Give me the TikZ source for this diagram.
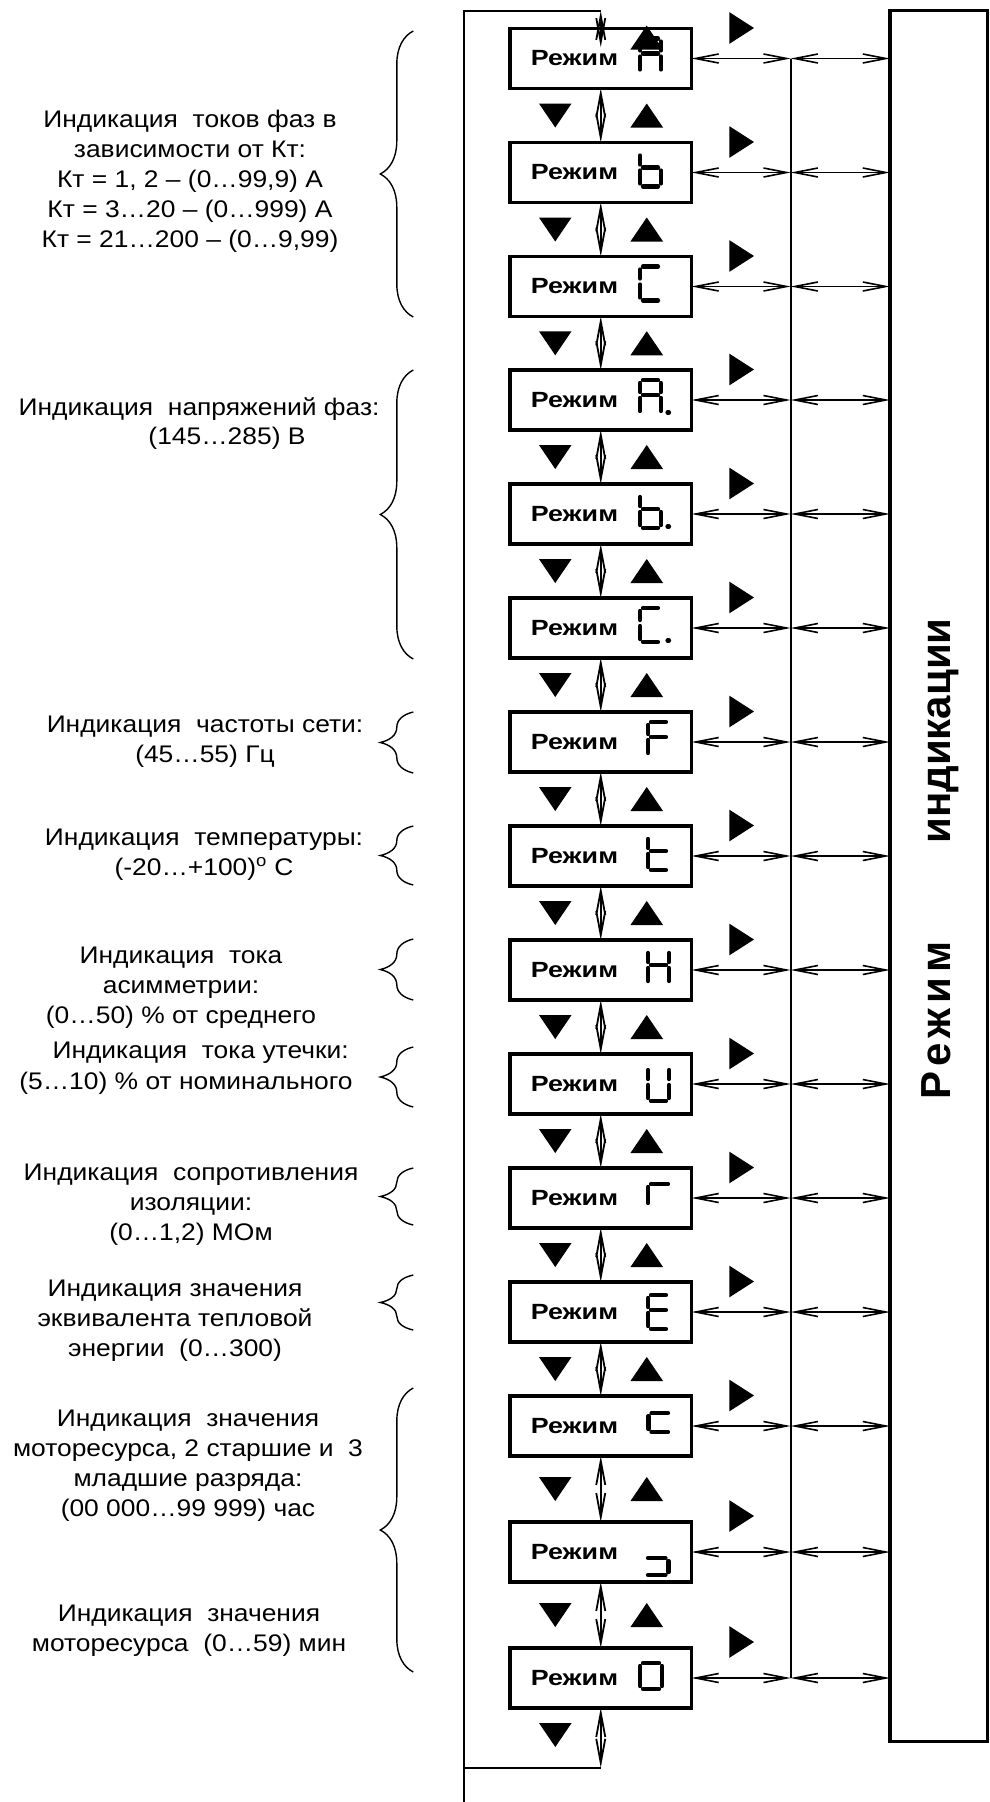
\documentclass[tikz,border=0pt]{standalone}
\usepackage{fontspec}
\setmainfont{Liberation Sans}[FakeStretch=1.1]
\newfontfamily\widefont{Liberation Sans}[FakeStretch=1.22]
\newfontfamily\panelfont{Liberation Sans}
\usetikzlibrary{arrows.meta, decorations.pathreplacing}
\tikzset{
    modebox/.style={draw, line width=3.3pt, minimum width=181.5pt, minimum height=60pt, inner sep=0pt, outer sep=0pt},
    modetext/.style={font=\widefont\fontsize{22}{22}\selectfont\bfseries, inner sep=0pt},
    note/.style={align=center, font=\fontsize{24}{30}\selectfont, inner sep=0pt},
    link/.style={{Straight Barb[length=24pt,width=9pt]}-{Straight Barb[length=24pt,width=9pt]}, line width=1.8pt},
    hlink/.style={{Straight Barb[length=23pt,width=9pt]}-{Straight Barb[length=23pt,width=9pt]}, line width=1.6pt},
    wire/.style={line width=2pt},
    segline/.style={line width=4.2pt, line cap=round},
    curly/.style={decorate, decoration={brace, amplitude=33pt}, line width=1.4pt},
    seg a/.style={insert path={(3,-20) -- (18,-20)}},
    seg b/.style={insert path={(21,-17) -- (21,-8)}},
    seg c/.style={insert path={(21,-2) -- (21,11)}},
    seg d/.style={insert path={(3,14) -- (18,14)}},
    seg e/.style={insert path={(0,-2) -- (0,11)}},
    seg f/.style={insert path={(0,-17) -- (0,-8)}},
    seg g/.style={insert path={(3,-5) -- (18,-5)}},
    seg p/.style={insert path={(27.5,12.5) -- (29,12.5)}},
    pics/glyph/.style={code={\draw[segline] (0,0) [#1];}},
    pics/tridown/.style={code={\fill (-16.3,-12) -- (16.3,-12) -- (0,12) -- cycle;}},
    pics/triup/.style={code={\fill (-16.3,12) -- (16.3,12) -- (0,-12) -- cycle;}},
    pics/triright/.style={code={\fill (-12.3,-15.8) -- (12.3,0) -- (-12.3,15.8) -- cycle;}}
}

\begin{document}
\begin{tikzpicture}[x=1pt, y=-1pt]
    \useasboundingbox (0,0) rectangle (990,1802);
    % mode boxes, bus taps and the right markers
    \foreach \i/\y/\r in {1/58.5/30.5, 2/172.5/30.5, 3/286.5/30.5, 4/400/30.5, 5/514/30.5,
        6/628/30.5, 7/742/30.5, 8/856/30.5, 9/970/30.5, 10/1084/30.5, 11/1198/30.5,
        12/1312/30.5, 13/1426/30.5, 14/1552/36, 15/1678/36} {
        \node[modebox] (m\i) at (600.75,\y) {};
        \node[modetext] (t\i) at (574.5,\y) {Режим};
        \coordinate (bus\i) at (790.7,\y);
        \pic at (741.7,{\y-\r}) {triright};
    }
    % indicator panel
    \node[draw, line width=3.3pt, minimum width=97.5pt, minimum height=1731pt,
        anchor=north west, inner sep=0pt, outer sep=0pt] (panel) at (890,10.7) {};
    \node[font=\panelfont\fontsize{42}{42}\selectfont\bfseries, rotate=90] (ptitle) at (940,859)
        {Р\hspace{5pt}е\hspace{5pt}ж\hspace{5pt}и\hspace{5pt}м\hspace{98pt}индикации};
    % return loop
    \coordinate (ltop) at (464,11);
    \coordinate (rtop) at (600.75,11);
    \coordinate (tin) at (600.75,47);
    \coordinate (lret) at (464,1767.7);
    \coordinate (rbot) at (600.75,1767.7);
    \coordinate (lend) at (464,1802);
    \draw[wire] (lend) -- (ltop) -- (rtop);
    \draw[wire] (lret) -- (rbot);
    \draw[link] (rtop) -- (tin);
    \draw[link] (m15.south) -- (rbot);
    \pic at (555.3,1735) {tridown};
    % links between the modes
    \foreach \i in {1,...,14} {
        \pgfmathtruncatemacro{\j}{\i+1}
        \draw[link] (m\i.south) -- (m\j.north);
        \path (m\i.south) -- (m\j.north) coordinate[midway] (gap\i);
        \pic at ([xshift=-45.5pt]gap\i) {tridown};
        \pic at ([xshift=46pt]gap\i) {triup};
    }
    % bus to panel
    \draw[wire] (bus1) -- (bus15);
    \foreach \i in {1,...,15} {
        \draw[hlink] (m\i.east) -- (bus\i);
        \draw[hlink] (bus\i) -- (panel.west |- bus\i);
    }
    % seven-segment symbols
    \pic at (640,58.5) {glyph={seg a,seg b,seg c,seg e,seg f,seg g}};
    \pic at (640,172.5) {glyph={seg f,seg e,seg g,seg c,seg d}};
    \pic at (640,286.5) {glyph={seg a,seg f,seg e,seg d}};
    \pic at (640,400) {glyph={seg a,seg b,seg c,seg e,seg f,seg g,seg p}};
    \pic at (640,514) {glyph={seg f,seg e,seg g,seg c,seg d,seg p}};
    \pic at (640,628) {glyph={seg a,seg f,seg e,seg d,seg p}};
    \pic at (648,742) {glyph={seg a,seg f,seg g,seg e}};
    \pic at (648,856) {glyph={seg f,seg e,seg g,seg d}};
    \pic at (648,970) {glyph={seg f,seg e,seg b,seg c,seg g}};
    \pic at (648,1087) {glyph={seg f,seg e,seg b,seg c,seg d}};
    \draw[segline, shift={(648,1198)}] (0,-11) -- (0,5) (3,-14) -- (20,-14);
    \pic at (648,1315) {glyph={seg a,seg f,seg g,seg e,seg d}};
    \draw[segline, shift={(648.5,1426)}] (3,-13) -- (19.5,-13) (0,-10) -- (0,3) (3,6) -- (19.5,6);
    \draw[segline, shift={(648,1552)}] (0,6) -- (17.5,6) (20.5,9) -- (20.5,20) (0,23) -- (17.5,23);
    \draw[segline, shift={(640,1678)}] (3,-15) -- (19,-15) (22,-12) -- (22,8) (3,11) -- (19,11) (0,-12) -- (0,8);
    \pic at (646.7,37.5) {triup};
    % braces and notes
    \foreach \a/\b in {31/317, 370/659, 712/773, 826/885, 939/1000, 1047/1107,
        1168/1225, 1275/1330, 1388/1672}
        \draw[curly] (413.3,\b) -- (413.3,\a);
    \node[note] (n1) at (190,181) {Индикация\ \ токов фаз в\\зависимости от Кт:\\Кт = 1, 2 – (0…99,9) А\\Кт = 3…20 – (0…999) А\\Кт = 21…200 – (0…9,99)};
    \node[note] (n2a) at (199,409) {Индикация\ \ напряжений фаз:};
    \node[note] (n2b) at (227,438) {(145…285) В};
    \node[note] (n3) at (205,742) {Индикация\ \ частоты сети:\\(45…55) Гц};
    \node[note] (n4) at (204,855) {Индикация\ \ температуры:\\(-20…+100)\textsuperscript{o} С};
    \node[note] (n5) at (181,988) {Индикация\ \ тока\\асимметрии:\\(0…50) \% от среднего};
    \node[note] (n6a) at (200.6,1053) {Индикация\ \ тока утечки:};
    \node[note] (n6b) at (186,1083) {(5…10) \% от номинального};
    \node[note] (n7) at (191,1205) {Индикация\ \ сопротивления\\изоляции:\\(0…1,2) МОм};
    \node[note] (n8) at (175,1321) {Индикация значения\\эквивалента тепловой\\энергии\ \ (0…300)};
    \node[note] (n9) at (188,1466) {Индикация\ \ значения\\моторесурса, 2 старшие и\ \ 3\\младшие разряда:\\(00 000…99 999) час};
    \node[note] (n10) at (189,1631) {Индикация\ \ значения\\моторесурса\ \ (0…59) мин};
\end{tikzpicture}
\end{document}
